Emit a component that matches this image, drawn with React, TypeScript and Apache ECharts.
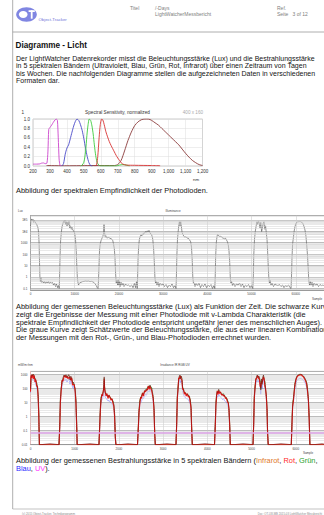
import React, { useEffect, useRef } from "react";
import * as echarts from "echarts";

const FONT = '"Liberation Sans", Arial, Helvetica, sans-serif';

// ---------- Chart 1: spectral sensitivity [nm, normalized] ----------
const specUV: [number, number][] = [[200,0.04],[220,0.04],[240,0.045],[250,0.06],[262,0.065],[272,0.05],[282,0.06],[288,0.3],[293,0.78],[300,0.82],[310,0.87],[320,0.93],[330,0.98],[338,1.0],[344,0.97],[349,0.6],[354,0.15],[359,0.02],[366,0]];
const specBlue: [number, number][] = [[370,0],[380,0.05],[390,0.25],[400,0.38],[410,0.45],[420,0.58],[430,0.72],[440,0.85],[450,0.95],[460,1.0],[470,0.97],[480,0.88],[490,0.76],[500,0.58],[510,0.38],[520,0.2],[530,0.07],[540,0.01],[550,0]];
const specGreen: [number, number][] = [[480,0],[490,0.02],[500,0.08],[510,0.3],[518,0.65],[525,0.88],[532,1.0],[540,0.97],[548,0.85],[555,0.68],[562,0.45],[570,0.22],[578,0.08],[588,0.02],[600,0],[690,0],[710,0.02],[730,0.03],[750,0.02],[770,0]];
const specRed: [number, number][] = [[565,0],[575,0.03],[582,0.2],[590,0.6],[597,0.88],[605,1.0],[612,0.98],[620,0.88],[630,0.73],[640,0.62],[650,0.52],[660,0.44],[670,0.37],[680,0.3],[690,0.23],[700,0.17],[710,0.12],[720,0.07],[730,0.04],[750,0.02],[800,0.015],[900,0.01],[950,0.005]];
const specIR: [number, number][] = [[280,0.01],[400,0.005],[560,0.01],[680,0.01],[700,0.03],[720,0.12],[740,0.32],[760,0.54],[780,0.72],[800,0.86],[820,0.94],[840,0.985],[860,1.0],[880,1.0],[900,0.97],[920,0.92],[940,0.87],[960,0.8],[980,0.73],[1000,0.66],[1020,0.59],[1040,0.52],[1060,0.45],[1080,0.36],[1100,0.27],[1120,0.19],[1140,0.12],[1160,0.07],[1180,0.03],[1200,0.01]];

// ---------- Chart 2: illuminance [sample, lux] ----------
const luxDay1: [number, number][] = [[0,3e4],[110,8e4],[270,1.2e5],[410,9e4],[570,1.1e5],[720,6e4],[860,9e4],[1020,7e4],[1180,5e4],[1360,4.5e4],[1520,3e4],[1700,2e4],[1830,8e3],[1950,800],[2040,20],[2130,1],[2240,0.4]];
const luxNight1: [number, number][] = [[2380,0.9],[2490,0.35],[2710,0.45],[2940,0.3],[3170,0.4],[3390,0.28],[3620,0.38],[3850,0.3],[4070,0.4],[4300,0.27],[4520,0.35],[4750,0.3],[4980,0.33],[5200,0.2],[5430,0.3],[5660,0.15],[5880,0.25],[6110,0.12],[6330,0.2],[6490,0.1]];
const luxDay2: [number, number][] = [[6580,1],[6700,100],[6810,1500],[6970,8000],[7130,2.5e4],[7350,5e4],[7490,8e4],[7650,6e4],[7800,9e4],[7960,4e4],[8100,7e4],[8260,3e4],[8390,6e4],[8550,3.5e4],[8710,8e4],[8870,2e4],[9050,3e4],[9230,1.5e4],[9390,2.2e4],[9610,1.2e4],[9840,1e4],[10020,6000],[10180,2000],[10340,200],[10470,10],[10590,1],[10700,0.4]];
const luxNight2: [number, number][] = [[10860,0.2],[11080,0.3],[11420,0.35],[11760,0.4],[12100,0.42],[12440,0.45],[12780,0.43],[13120,0.45],[13460,0.4],[13800,0.42],[14140,0.38],[14480,0.3],[14820,0.2],[15090,0.12],[15270,0.1]];
const luxDay3: [number, number][] = [[15380,0.5],[15500,10],[15610,200],[15770,800],[15950,1500],[16170,2500],[16350,3500],[16510,6000],[16630,4e4],[16740,8000],[16920,3000],[17080,4000],[17300,2500],[17530,3000],[17760,2800],[17980,2500],[18210,2200],[18440,2000],[18620,1500],[18770,800],[18960,300],[19110,50],[19250,2],[19390,0.3]];
const luxNight3: [number, number][] = [[19570,0.5],[19700,0.2],[19840,0.6],[19970,0.2],[20130,0.4],[20290,0.15],[20470,0.35],[20700,0.2],[20920,0.3],[21150,0.15],[21490,0.25],[21830,0.18],[22170,0.2],[22510,0.15],[22850,0.2],[23190,0.12],[23520,0.3],[23750,0.12],[23980,0.4],[24140,0.1]];
const luxDay4: [number, number][] = [[24230,1],[24340,50],[24470,500],[24630,2000],[24810,3500],[25000,5000],[25180,4000],[25360,6000],[25540,5000],[25720,8000],[25900,7000],[26080,1e4],[26260,8000],[26440,1.1e4],[26620,9000],[26800,1.2e4],[27030,7000],[27260,6000],[27480,4000],[27660,2000],[27850,300],[28000,20],[28140,1],[28280,0.3]];
const luxNight4: [number, number][] = [[28430,0.4],[28610,0.2],[28840,0.35],[29070,0.15],[29290,0.3],[29630,0.2],[29970,0.25],[30310,0.15],[30650,0.22],[30990,0.12],[31330,0.2],[31670,0.15],[32010,0.25],[32350,0.12],[32690,0.18],[32910,0.1]];
const luxDay5: [number, number][] = [[33000,1],[33120,100],[33250,2000],[33410,1e4],[33570,4e4],[33680,7e4],[33820,3e4],[33980,7e4],[34130,2.5e4],[34290,8000],[34500,5000],[34720,3500],[34950,3000],[35170,3400],[35400,2600],[35690,2500],[35970,1800],[36240,1200],[36420,400],[36580,30],[36710,1],[36850,0.3]];
const luxNight5: [number, number][] = [[37030,0.3],[37210,0.15],[37440,0.28],[37780,0.18],[38110,0.3],[38450,0.12],[38790,0.22],[39130,0.15],[39470,0.25],[39810,0.12],[40150,0.2],[40490,0.15],[40830,0.22],[41170,0.1],[41510,0.18],[41690,0.1]];
const luxDay6: [number, number][] = [[41780,1],[41890,80],[42030,1000],[42190,3500],[42320,5500],[42480,4500],[42640,3800],[42860,3400],[43090,3800],[43320,2800],[43610,2500],[43880,2200],[44110,2500],[44340,1700],[44560,1200],[44740,630],[44900,200],[45060,20],[45190,1],[45330,0.3]];
const luxNight6: [number, number][] = [[45490,0.4],[45690,0.18],[45920,0.3],[46260,0.15],[46600,0.25],[46940,0.2],[47280,0.3],[47620,0.15],[47950,0.25],[48290,0.12],[48630,0.2],[48970,0.15],[49310,0.22],[49650,0.12],[49990,0.18],[50280,0.1]];
const luxDay7: [number, number][] = [[50400,1],[50510,100],[50670,2000],[50850,1e4],[51050,3e4],[51230,7e4],[51390,4e4],[51570,8e4],[51750,5e4],[51910,2e4],[52090,6e4],[52280,9400],[52460,2e4],[52640,5e4],[52820,7e4],[53000,1.5e4],[53180,3e4],[53340,7000],[53500,2000],[53630,200],[53770,10],[53900,1],[54040,0.3]];
const luxNight7: [number, number][] = [[54220,0.5],[54400,0.2],[54630,0.3],[54970,0.15],[55310,0.25],[55650,0.2],[55980,0.18],[56320,0.22],[56660,0.15],[57000,0.2],[57340,0.12],[57680,0.18],[58020,0.15],[58360,0.2],[58700,0.12],[58930,0.1]];
const luxDay8: [number, number][] = [[59040,1],[59150,50],[59290,800],[59450,2500],[59630,1e4],[59830,2.6e4],[60010,4.5e4],[60210,6.2e4],[60460,6.8e4],[60740,7e4],[61010,7.2e4],[61280,6.5e4],[61570,5e4],[61820,3e4],[62090,1.3e4],[62300,4000],[62480,630],[62660,80],[62820,5],[62950,0.5],[63110,0.2]];
const luxNight8: [number, number][] = [[63290,0.4],[63450,0.2],[63680,0.35],[63900,0.15],[64130,0.3],[64470,0.2],[64810,0.25],[65150,0.15],[65490,0.22],[65820,0.18],[66160,0.2],[66620,0.15],[66960,0.18]];

// ---------- Chart 3: irradiance per band (sample, mW/m²/nm) ----------
const irrSamples: number[] = [
  0,11,27,45,63,84,102,120,140,158,174,188,201,
  238,441,645,
  663,676,692,713,735,758,780,803,826,848,871,893,912,932,952,970,991,1011,1027,1043,1056,
  1120,1346,1549,
  1568,1581,1595,1613,1631,1647,1660,1667,1676,1690,1708,1730,1753,1776,1798,1821,1844,1866,1884,1902,1918,1932,
  2024,2205,2420,
  2441,2454,2472,2490,2511,2533,2556,2579,2601,2624,2644,2665,2685,2703,2721,2739,2757,2775,2794,2809,2823,
  2884,3088,3291,
  3307,3321,3336,3352,3366,3382,3395,3409,3425,3441,3459,3479,3499,3522,3547,3569,3592,3612,3631,3646,3660,
  3744,3947,4162,
  4180,4194,4210,4225,4241,4257,4275,4298,4320,4343,4366,4388,4411,4434,4454,4474,4490,4506,4519,
  4603,4807,5033,
  5049,5062,5078,5096,5114,5130,5146,5162,5178,5194,5209,5225,5241,5257,5270,5286,5302,5318,5334,5350,5363,5377,
  5463,5666,5899,
  5915,5929,5945,5963,5983,6001,6021,6044,6069,6096,6123,6150,6175,6200,6225,6248,6268,6286,6304,6320,
  6413,6594,6707,
];
const irrIR: number[] = [
  100,600,1000,800,1100,700,550,400,240,120,40,2,0.01,
  0.01,0.012,0.01,
  0.5,20,100,300,600,950,700,1000,600,900,1000,420,800,500,250,300,150,100,20,0.5,0.01,
  0.01,0.012,0.01,
  0.5,5,20,30,45,60,200,700,150,50,40,35,27,30,22,20,16,12,8,2,0.05,0.01,
  0.01,0.012,0.01,
  0.3,3,12,20,27,45,40,60,80,70,110,140,120,180,130,110,60,27,5,0.1,0.01,
  0.01,0.012,0.01,
  0.5,30,110,400,800,950,500,800,550,120,80,55,47,40,38,35,25,16,6,0.2,0.01,
  0.01,0.012,0.01,
  0.4,10,40,60,50,90,60,50,45,35,40,28,25,20,15,9,4,0.3,0.01,
  0.01,0.012,0.01,
  0.5,30,140,400,700,950,600,800,700,300,80,500,200,700,950,400,300,80,40,5,0.1,0.01,
  0.01,0.012,0.01,
  0.5,8,16,60,240,450,720,900,1000,1100,1050,950,800,600,420,250,80,20,1,0.01,
  0.01,0.012,0.01,
];
const irrRed: number[] = [
  60,900,600,1000,500,900,300,450,150,150,20,1,0.01,
  0.01,0.01,0.01,
  0.2,10,60,400,350,700,900,600,800,500,700,600,400,600,180,200,200,60,10,0.3,0.01,
  0.01,0.01,0.01,
  0.3,3,15,40,30,70,120,500,90,60,30,45,20,35,25,15,20,9,6,1,0.03,0.01,
  0.01,0.01,0.01,
  0.2,2,8,25,20,50,30,70,60,90,80,160,90,150,100,80,40,20,3,0.06,0.01,
  0.01,0.01,0.01,
  0.3,20,80,600,500,800,700,500,400,90,100,40,55,30,45,25,30,12,4,0.1,0.01,
  0.01,0.01,0.01,
  0.2,6,30,70,40,70,45,60,35,40,30,32,20,22,11,10,3,0.2,0.01,
  0.01,0.01,0.01,
  0.3,20,100,500,500,800,800,500,500,150,120,300,300,500,700,500,150,100,25,3,0.06,0.01,
  0.01,0.01,0.01,
  0.3,5,12,50,200,400,600,800,900,950,1000,800,700,500,350,200,60,15,0.6,0.01,
  0.01,0.01,0.01,
];
const irrGreen: number[] = [
  80,500,900,900,1000,650,600,350,260,100,30,1.5,0.01,
  0.01,0.01,0.01,
  0.3,15,80,350,500,900,750,950,700,850,900,500,700,550,300,280,160,80,15,0.4,0.01,
  0.01,0.01,0.01,
  0.4,4,25,35,50,70,150,600,120,60,50,40,32,35,26,22,18,13,7,1.5,0.04,0.01,
  0.01,0.01,0.01,
  0.25,2.5,14,24,30,50,45,65,90,80,120,150,130,170,140,120,55,25,4,0.08,0.01,
  0.01,0.01,0.01,
  0.4,25,100,450,700,900,550,750,500,130,90,60,52,45,42,38,28,18,5,0.15,0.01,
  0.01,0.01,0.01,
  0.3,8,45,70,55,85,65,55,50,40,45,32,28,22,16,10,3,0.25,0.01,
  0.01,0.01,0.01,
  0.4,25,120,450,650,900,650,750,650,350,100,450,250,650,900,450,320,90,35,4,0.08,0.01,
  0.01,0.01,0.01,
  0.4,7,18,70,260,480,700,880,950,1050,1000,900,780,580,430,260,85,18,0.8,0.01,
  0.01,0.01,0.01,
];
const irrBlue: number[] = [
  50,300,500,400,550,350,280,200,120,60,20,1,0.01,
  0.01,0.01,0.01,
  0.2,10,50,150,300,480,350,500,300,450,500,210,400,250,120,150,75,50,10,0.25,0.01,
  0.01,0.01,0.01,
  0.25,2.5,10,15,22,30,100,350,75,25,20,18,13,15,11,10,8,6,4,1,0.03,0.01,
  0.01,0.01,0.01,
  0.15,1.5,6,10,13,22,20,30,40,35,55,70,60,90,65,55,30,13,2.5,0.05,0.01,
  0.01,0.01,0.01,
  0.25,15,55,200,400,480,250,400,280,60,40,28,23,20,19,17,12,8,3,0.1,0.01,
  0.01,0.01,0.01,
  0.2,5,20,30,25,45,30,25,22,17,20,14,12,10,7,4.5,2,0.15,0.01,
  0.01,0.01,0.01,
  0.25,15,70,200,350,480,300,400,350,150,40,250,100,350,480,200,150,40,20,2.5,0.05,0.01,
  0.01,0.01,0.01,
  0.25,4,8,30,120,220,360,450,500,550,520,480,400,300,210,120,40,10,0.5,0.01,
  0.01,0.01,0.01,
];
const irrUV: [number, number][] = [[0,0.068],[6707,0.068]];

// ---------- Texts ----------
const introLines = [
  "Der LightWatcher Datenrekorder misst die Beleuchtungsstärke (Lux) und die Bestrahlungsstärke",
  "in 5 spektralen Bändern (Ultraviolett, Blau, Grün, Rot, Infrarot) über einen Zeitraum von Tagen",
  "bis Wochen. Die nachfolgenden Diagramme stellen die aufgezeichneten Daten in verschiedenen",
  "Formaten dar.",
];
const caption2Lines = [
  "Abbildung der gemessenen Beleuchtungsstärke (Lux) als Funktion der Zeit. Die schwarze Kurve",
  "zeigt die Ergebnisse der Messung mit einer Photodiode mit v-Lambda Charakteristik (die",
  "spektrale Empfindlichkeit der Photodiode entspricht ungefähr jener des menschlichen Auges).",
  "Die graue Kurve zeigt Schätzwerte der Beleuchtungsstärke, die aus einer linearen Kombination",
  "der Messungen mit den Rot-, Grün-, und Blau-Photodioden errechnet wurden.",
];

function zip(xs: number[], ys: number[]): [number, number][] {
  return xs.map((x, i) => [x, ys[i]]);
}

function minorLevels(min: number, max: number): number[] {
  const out: number[] = [];
  for (let k = -3; k <= 6; k++) {
    for (let d = 2; d <= 9; d++) {
      const v = d * Math.pow(10, k);
      if (v > min * 1.001 && v < max * 0.999) out.push(v);
    }
  }
  return out;
}

function isDecade(v: number): boolean {
  const l = Math.log10(v);
  return Math.abs(l - Math.round(l)) < 1e-6;
}

const BODY = 7.4;
const INTRO = 7.0;
const INK = "#141414";

function txt(x: number, y: number, text: string, size: number, color = INK, align = "left", weight = "normal") {
  return {
    type: "text",
    x,
    y,
    silent: true,
    style: {
      text,
      fill: color,
      fontSize: size,
      fontFamily: FONT,
      fontWeight: weight,
      textAlign: align,
      textVerticalAlign: "middle",
    },
  };
}

function ln(x1: number, y1: number, x2: number, y2: number, color = "#9a9a9a", w = 0.8) {
  return { type: "line", silent: true, shape: { x1, y1, x2, y2 }, style: { stroke: color, lineWidth: w } };
}

export default function App() {
  const ref = useRef<HTMLDivElement>(null);

  useEffect(() => {
    if (!ref.current) return;
    const chart = echarts.init(ref.current, undefined, { renderer: "svg" });

    const luxData = [
      ...luxDay1, ...luxNight1, ...luxDay2, ...luxNight2, ...luxDay3, ...luxNight3,
      ...luxDay4, ...luxNight4, ...luxDay5, ...luxNight5, ...luxDay6, ...luxNight6,
      ...luxDay7, ...luxNight7, ...luxDay8, ...luxNight8,
    ];

    const luxMin = 0.074, luxMax = 2.4e5;
    const irrMin = 0.01, irrMax = 1750;
    const small = 3;

    const logLabel = (big: boolean) => (v: number) => {
      if (!isDecade(v)) return "";
      const e = Math.round(Math.log10(v));
      if (big && e >= 4) return "1E" + e;
      if (e < 0) return v.toFixed(-e);
      return String(Math.round(v));
    };

    const specLine = (data: [number, number][], color: string) => ({
      type: "line",
      xAxisIndex: 0,
      yAxisIndex: 0,
      data,
      showSymbol: false,
      smooth: 0.25,
      lineStyle: { color, width: 0.9 },
      z: 3,
    });

    const irrLine = (vals: number[], color: string, width: number, z: number, opacity = 1) => ({
      type: "line",
      xAxisIndex: 2,
      yAxisIndex: 2,
      data: zip(irrSamples, vals),
      showSymbol: false,
      lineStyle: { color, width, opacity },
      z,
    });

    const minorMark = (levels: number[], color: string) => ({
      silent: true,
      symbol: ["none", "none"],
      label: { show: false },
      lineStyle: { color, width: 0.5, type: "solid" },
      data: levels.map((v) => ({ yAxis: v })),
      animation: false,
    });

    const graphic: any[] = [
      // page frame
      ln(12.7, 0, 12.7, 509),
      ln(12.7, 32, 324, 32),
      ln(12.7, 509, 324, 509, "#aaaaaa", 0.7),
      // logo
      { type: "ellipse", silent: true, shape: { cx: 26.5, cy: 14.5, rx: 10.3, ry: 7.2 }, style: { fill: "#8086e2" } },
      { type: "ellipse", silent: true, shape: { cx: 23.2, cy: 14.5, rx: 4.3, ry: 3.4 }, style: { fill: "#ffffff" } },
      { type: "rect", silent: true, shape: { x: 28.6, y: 10.2, width: 6.2, height: 1.8 }, style: { fill: "#ffffff" } },
      { type: "rect", silent: true, shape: { x: 30.8, y: 10.2, width: 1.8, height: 8.5 }, style: { fill: "#ffffff" } },
      txt(38.5, 19.3, "Object-Tracker", 4.3, "#6d72d8"),
      // header texts
      txt(130, 7.8, "Titel", 5, "#808080"),
      txt(155, 7.8, "/-Days", 5, "#808080"),
      txt(155, 13.6, "LightWatcherMessbericht", 5, "#808080"),
      txt(277, 7.8, "Ref.", 5, "#808080"),
      txt(277, 13.6, "Seite   3 of 12", 5, "#808080"),
      // heading
      txt(15.5, 45.3, "Diagramme - Licht", 8.2, "#111", "left", "bold"),
      // intro
      ...introLines.map((s, i) => txt(16, 58.3 + i * 7.4, s, INTRO)),
      // chart 1 annotations
      txt(21.5, 112.3, "1", 4.6, "#333"),
      txt(117.5, 112.3, "Spectral Sensitivity, normalized", 4.7, "#333", "center"),
      txt(203, 112.3, "400 x 160", 4.6, "#aaaaaa", "right"),
      txt(196, 179.2, "nm", 4.4, "#333", "center"),
      txt(16, 190, "Abbildung der spektralen Empfindlichkeit der Photodioden.", BODY),
      // chart 2 annotations
      txt(18, 210.3, "Lux", 3, "#444"),
      txt(173, 210.3, "Illuminance", 3, "#444", "center"),
      txt(317, 299, "Sample", 3, "#444", "center"),
      ...caption2Lines.map((s, i) => txt(16, 306.5 + i * 7.8, s, BODY)),
      // chart 3 annotations
      txt(18, 364.5, "mW/m²/nm", 3, "#444"),
      txt(175, 364.5, "Irradiance IR RGB UV", 3, "#444", "center"),
      txt(308, 452.8, "Sample", 3, "#444", "center"),
      {
        type: "text",
        x: 16,
        y: 460.5,
        silent: true,
        style: {
          text: "{n|Abbildung der gemessenen Bestrahlungsstärke in 5 spektralen Bändern (}{ir|Infrarot}{n|, }{r|Rot}{n|, }{g|Grün}{n|,}",
          textVerticalAlign: "middle",
          rich: {
            n: { fill: INK, fontSize: BODY, fontFamily: FONT },
            ir: { fill: "#e07a2a", fontSize: BODY, fontFamily: FONT },
            r: { fill: "#ff2a2a", fontSize: BODY, fontFamily: FONT },
            g: { fill: "#1fa01f", fontSize: BODY, fontFamily: FONT },
          },
        },
      },
      {
        type: "text",
        x: 16,
        y: 468.5,
        silent: true,
        style: {
          text: "{b|Blau}{n|, }{uv|UV}{n|).}",
          textVerticalAlign: "middle",
          rich: {
            n: { fill: INK, fontSize: BODY, fontFamily: FONT },
            b: { fill: "#2a2aff", fontSize: BODY, fontFamily: FONT },
            uv: { fill: "#ff3cff", fontSize: BODY, fontFamily: FONT },
          },
        },
      },
      // footer
      txt(22, 513.2, "(c) 2015 Object-Tracker, Technikprogramm", 2.8, "#888"),
      txt(322, 513.2, "Doc: OT-LW-MB 2015-03 LightWatcher Messbericht", 2.8, "#888", "right"),
    ];

    const option: any = {
      animation: false,
      backgroundColor: "#ffffff",
      textStyle: { fontFamily: FONT },
      grid: [
        { left: 33, top: 119, width: 169.5, height: 47, show: true, borderColor: "#a8a8a8", borderWidth: 0.6, backgroundColor: "transparent", outerBoundsMode: "none", containLabel: false },
        { left: 30.5, top: 215.5, width: 296.2, height: 74.5, show: true, borderColor: "#bbbbbb", borderWidth: 0.5, backgroundColor: "transparent", outerBoundsMode: "none", containLabel: false },
        { left: 30.5, top: 371.3, width: 296.2, height: 73.4, show: true, borderColor: "#bbbbbb", borderWidth: 0.5, backgroundColor: "transparent", outerBoundsMode: "none", containLabel: false },
      ],
      xAxis: [
        {
          gridIndex: 0, type: "value", min: 200, max: 1200, interval: 100,
          axisLine: { show: false }, axisTick: { show: false },
          axisLabel: { fontSize: 4.5, color: "#333", margin: 2.5, fontFamily: FONT },
          splitLine: { show: true, lineStyle: { color: "#dcdcdc", width: 0.5 } },
        },
        {
          gridIndex: 1, type: "value", min: 0, max: 67000, interval: 10000,
          axisLine: { show: true, onZero: false, lineStyle: { color: "#888", width: 0.6 } }, axisTick: { show: false },
          axisLabel: { fontSize: small, color: "#444", margin: 2, fontFamily: FONT, formatter: (v: number) => (v % 10000 === 0 ? String(v) : "") },
          splitLine: { show: true, lineStyle: { color: "#c4c4c4", width: 0.5 } },
        },
        {
          gridIndex: 2, type: "value", min: 0, max: 6700, interval: 1000,
          axisLine: { show: true, onZero: false, lineStyle: { color: "#888", width: 0.6 } }, axisTick: { show: false },
          axisLabel: { fontSize: small, color: "#444", margin: 2, fontFamily: FONT, formatter: (v: number) => (v % 1000 === 0 ? String(v) : "") },
          splitLine: { show: true, lineStyle: { color: "#c4c4c4", width: 0.5 } },
        },
      ],
      yAxis: [
        {
          gridIndex: 0, type: "value", min: 0, max: 1, interval: 0.2,
          axisLine: { show: false }, axisTick: { show: false },
          axisLabel: { fontSize: 4.5, color: "#333", margin: 3, fontFamily: FONT, formatter: (v: number) => v.toFixed(1) },
          splitLine: { show: true, lineStyle: { color: "#dcdcdc", width: 0.5 } },
        },
        {
          gridIndex: 1, type: "log", logBase: 10, min: luxMin, max: luxMax,
          axisLine: { show: true, lineStyle: { color: "#888", width: 0.6 } }, axisTick: { show: false },
          axisLabel: { fontSize: small, color: "#444", margin: 3, fontFamily: FONT, formatter: logLabel(true), showMinLabel: true, showMaxLabel: true },
          splitLine: { show: true, lineStyle: { color: "#8e8e8e", width: 0.6 } },
        },
        {
          gridIndex: 2, type: "log", logBase: 10, min: irrMin, max: irrMax,
          axisLine: { show: true, lineStyle: { color: "#e4b4b4", width: 0.8 } }, axisTick: { show: false },
          axisLabel: { fontSize: small, color: "#444", margin: 3, fontFamily: FONT, formatter: logLabel(false), showMinLabel: true, showMaxLabel: true },
          splitLine: { show: true, lineStyle: { color: "#8e8e8e", width: 0.6 } },
        },
      ],
      series: [
        specLine(specIR, "#8b3b3b"),
        specLine(specUV, "#cc44cc"),
        specLine(specBlue, "#4747c8"),
        specLine(specGreen, "#3ccc3c"),
        specLine(specRed, "#d83232"),
        {
          type: "line", xAxisIndex: 1, yAxisIndex: 1, data: [], z: 1,
          markLine: minorMark(minorLevels(luxMin, luxMax), "#d2d2d2"),
        },
        {
          type: "line", xAxisIndex: 1, yAxisIndex: 1, data: luxData,
          showSymbol: false, lineStyle: { color: "#666666", width: 0.7 }, z: 3,
        },
        {
          type: "line", xAxisIndex: 2, yAxisIndex: 2, data: [], z: 1,
          markLine: minorMark(minorLevels(irrMin, irrMax), "#d2d2d2"),
        },
        irrLine(irrBlue, "#4a4aff", 0.5, 3, 0.75),
        irrLine(irrGreen, "#22a822", 0.8, 4),
        irrLine(irrRed, "#ee1c1c", 1.1, 5),
        irrLine(irrIR, "#7a1010", 0.55, 6),
        {
          type: "line", xAxisIndex: 2, yAxisIndex: 2, data: irrUV,
          showSymbol: false, lineStyle: { color: "#dba2e6", width: 1.4 }, z: 7,
        },
      ],
      graphic,
    };

    chart.setOption(option);
    return () => chart.dispose();
  }, []);

  return (
    <div
      ref={ref}
      style={{ position: "absolute", left: 0, top: 0, width: 324, height: 515, background: "#fff" }}
    />
  );
}
